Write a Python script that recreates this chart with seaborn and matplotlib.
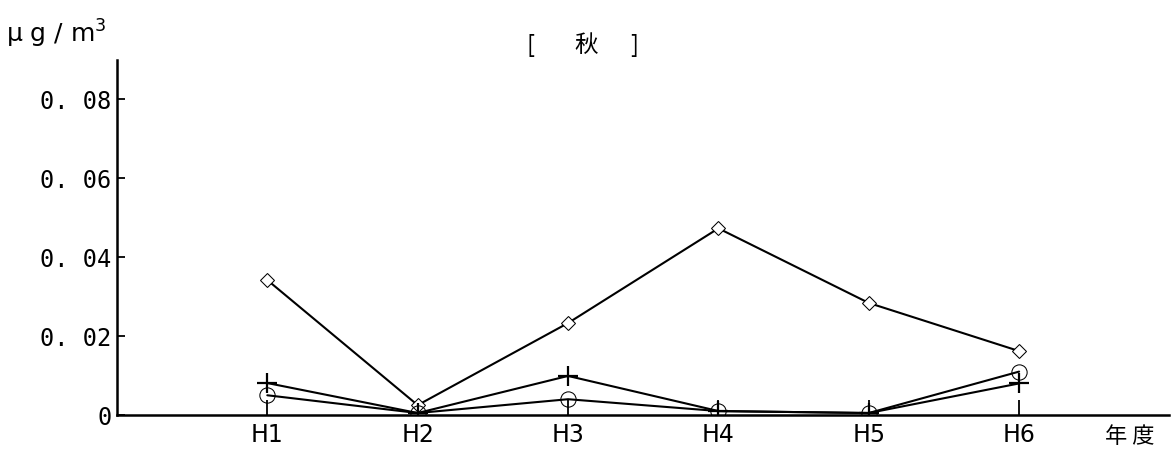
import pandas as pd
import matplotlib
matplotlib.use("Agg")
import matplotlib.pyplot as plt
import seaborn as sns

# Values (ug/m3), autumn
years = ["H1", "H2", "H3", "H4", "H5", "H6"]
diamond_vals = [0.0342, 0.0025, 0.0233, 0.0473, 0.0284, 0.0162]
plus_vals = [0.0081, 0.0005, 0.0099, 0.0010, 0.0005, 0.0080]
circle_vals = [0.0050, 0.0005, 0.0040, 0.0010, 0.0005, 0.0110]
y_ticks = [0, 0.02, 0.04, 0.06, 0.08]
y_tick_labels = ["0", "0. 02", "0. 04", "0. 06", "0. 08"]

sns.set_theme(style="white")
plt.rcParams["font.family"] = ["DejaVu Sans", "Noto Sans CJK JP"]
plt.rcParams["text.color"] = "black"

pos = list(range(1, len(years) + 1))
df = pd.DataFrame({
  "pos": pos * 3,
  "value": diamond_vals + plus_vals + circle_vals,
  "series": ["diamond"] * 6 + ["plus"] * 6 + ["circle"] * 6,
})

fig = plt.figure(figsize=(11.73, 4.57), dpi=100)
ax = fig.add_axes([0.0997, 0.0919, 0.8973, 0.7771])

styles = {
  "diamond": dict(marker="D", markersize=7, markerfacecolor="white"),
  "plus": dict(marker="+", markersize=14, markeredgewidth=1.6),
  "circle": dict(marker="o", markersize=11, markerfacecolor="none"),
}
for name, kw in styles.items():
  sub = df[df["series"] == name]
  sns.lineplot(data=sub, x="pos", y="value", ax=ax, color="black",
               linewidth=1.5, markeredgecolor="black", **kw)

ax.set_xlim(0, 7)
ax.set_ylim(0, 0.09)
ax.set_xticks(pos)
ax.set_xticklabels(years, fontsize=17)
ax.set_yticks(y_ticks)
ax.set_yticklabels(y_tick_labels, fontsize=17, family="DejaVu Sans Mono")
ax.tick_params(axis="x", bottom=True, direction="in", length=11, width=1.3,
               pad=6, color="black", labelcolor="black")
ax.tick_params(axis="y", left=True, direction="in", length=6, width=1.3,
               pad=4, color="black", labelcolor="black")
ax.set_xlabel("")
ax.set_ylabel("")
for side in ["top", "right"]:
  ax.spines[side].set_visible(False)
for side in ["left", "bottom"]:
  ax.spines[side].set_color("black")
  ax.spines[side].set_linewidth(1.8)

cjk = ["Noto Sans CJK JP"]
fig.text(0.452, 0.9, "[", fontsize=17, family=cjk, ha="center", va="center", color="black")
fig.text(0.50, 0.9, "秋", fontsize=17, family=cjk, ha="center", va="center", color="black")
fig.text(0.541, 0.9, "]", fontsize=17, family=cjk, ha="center", va="center", color="black")
fig.text(0.005, 0.925, "μ g / m$^3$", fontsize=18, ha="left", va="center", color="black")
fig.text(0.963, 0.045, "年 度", fontsize=16, family=cjk, ha="center", va="center", color="black")

plt.savefig("out.png", dpi=100)
